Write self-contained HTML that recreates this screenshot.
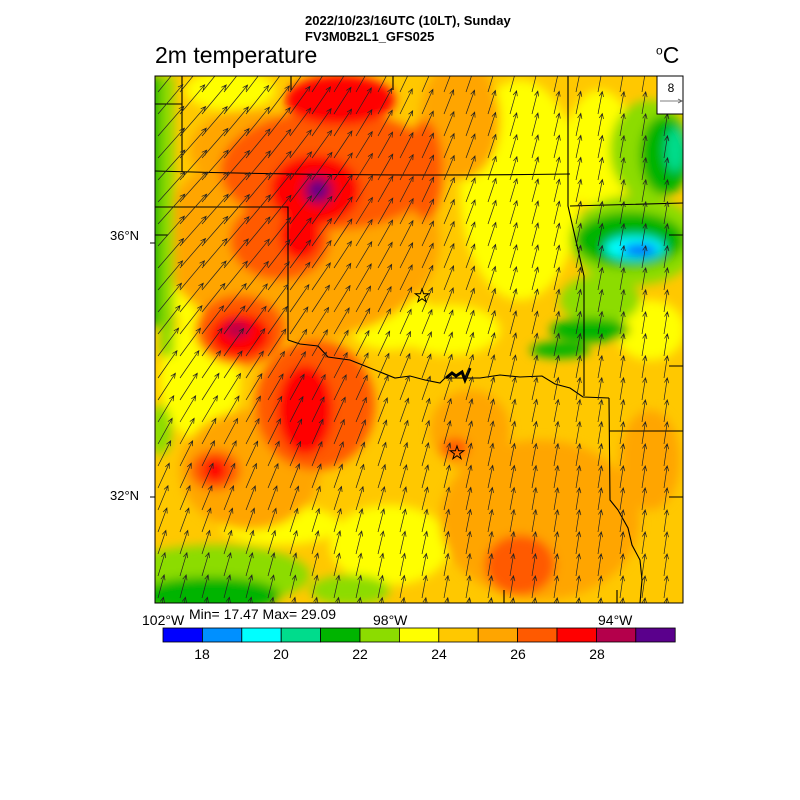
<!DOCTYPE html>
<html><head><meta charset="utf-8"><style>
body{margin:0;background:#fff;font-family:"Liberation Sans",sans-serif;}
#w{position:relative;width:800px;height:800px;overflow:hidden;}
.t{position:absolute;white-space:nowrap;color:#000;}
</style></head><body><div id="w">
<div class="t" style="left:305px;top:13px;font-size:13px;font-weight:bold;">2022/10/23/16UTC (10LT), Sunday</div>
<div class="t" style="left:305px;top:29px;font-size:13px;font-weight:bold;">FV3M0B2L1_GFS025</div>
<div class="t" style="left:155px;top:42px;font-size:23px;">2m temperature</div>
<div class="t" style="left:656px;top:42px;font-size:23px;"><sup style="font-size:12px">o</sup>C</div>
<div class="t" style="left:110px;top:228px;font-size:13px;">36°N</div>
<div class="t" style="left:110px;top:488px;font-size:13px;">32°N</div>
<div class="t" style="left:142px;top:612px;font-size:14px;">102°W</div>
<div class="t" style="left:189px;top:606px;font-size:14px;">Min= 17.47 Max= 29.09</div>
<div class="t" style="left:373px;top:612px;font-size:14px;">98°W</div>
<div class="t" style="left:598px;top:612px;font-size:14px;">94°W</div>
<svg width="800" height="800" style="position:absolute;left:0;top:0">
<defs><clipPath id="c"><rect x="155" y="76" width="528" height="527"/></clipPath>
<filter id="b" x="-50%" y="-50%" width="200%" height="200%"><feGaussianBlur stdDeviation="5"/></filter></defs>
<g clip-path="url(#c)">
<rect x="155" y="76" width="528" height="527" fill="#ffc800"/>
<g filter="url(#b)">
<!-- yellow regions -->
<ellipse cx="520" cy="190" rx="60" ry="110" fill="#ffff00"/>
<ellipse cx="600" cy="150" rx="35" ry="60" fill="#ffff00"/>
<ellipse cx="390" cy="320" rx="45" ry="30" fill="#ffff00"/>
<ellipse cx="450" cy="330" rx="50" ry="25" fill="#ffff00"/>
<ellipse cx="200" cy="380" rx="40" ry="60" fill="#ffff00"/>
<ellipse cx="195" cy="260" rx="25" ry="80" fill="#ffff00"/>
<ellipse cx="230" cy="90" rx="45" ry="20" fill="#ffff00"/>
<ellipse cx="390" cy="545" rx="60" ry="40" fill="#ffff00"/>
<ellipse cx="280" cy="525" rx="60" ry="20" fill="#ffff00"/>
<ellipse cx="650" cy="330" rx="35" ry="30" fill="#ffff00"/>
<!-- orange regions -->
<ellipse cx="540" cy="520" rx="100" ry="80" fill="#ffa500"/>
<ellipse cx="650" cy="460" rx="30" ry="50" fill="#ffa500"/>
<ellipse cx="470" cy="430" rx="40" ry="40" fill="#ffa500"/>
<ellipse cx="460" cy="120" rx="40" ry="60" fill="#ffa500"/>
<ellipse cx="250" cy="470" rx="70" ry="60" fill="#ffa500"/>
<ellipse cx="300" cy="240" rx="140" ry="100" fill="#ffa500"/>
<ellipse cx="250" cy="150" rx="60" ry="40" fill="#ffa500"/>
<!-- orange-red -->
<ellipse cx="330" cy="170" rx="110" ry="60" fill="#ff5a00"/>
<ellipse cx="280" cy="240" rx="50" ry="40" fill="#ff5a00"/>
<ellipse cx="240" cy="330" rx="45" ry="35" fill="#ff5a00"/>
<ellipse cx="315" cy="405" rx="60" ry="65" fill="#ff5a00"/>
<ellipse cx="425" cy="170" rx="18" ry="50" fill="#ff5a00"/>
<ellipse cx="520" cy="565" rx="35" ry="30" fill="#ff5a00"/>
<ellipse cx="455" cy="448" rx="14" ry="10" fill="#ff5a00"/>
<ellipse cx="215" cy="470" rx="25" ry="20" fill="#ff5a00"/>
<!-- red -->
<ellipse cx="340" cy="100" rx="55" ry="25" fill="#ff0000"/>
<ellipse cx="315" cy="190" rx="45" ry="35" fill="#ff0000"/>
<ellipse cx="300" cy="235" rx="20" ry="25" fill="#ff0000"/>
<ellipse cx="240" cy="335" rx="30" ry="22" fill="#ff0000"/>
<ellipse cx="305" cy="410" rx="28" ry="45" fill="#ff0000"/>
<ellipse cx="215" cy="470" rx="12" ry="12" fill="#ff0000"/>
<ellipse cx="318" cy="190" rx="16" ry="16" fill="#b4004b"/>
<ellipse cx="318" cy="190" rx="9" ry="9" fill="#5a008c"/>
<ellipse cx="237" cy="330" rx="12" ry="8" fill="#b4004b"/>
<!-- greens left -->
<rect x="140" y="76" width="22" height="250" fill="#00b400"/>
<rect x="160" y="76" width="14" height="280" fill="#8cdc00"/>
<ellipse cx="160" cy="430" rx="12" ry="25" fill="#8cdc00"/>
<ellipse cx="215" cy="575" rx="95" ry="30" fill="#8cdc00"/>
<ellipse cx="210" cy="595" rx="70" ry="18" fill="#00b400"/>
<ellipse cx="350" cy="590" rx="40" ry="15" fill="#8cdc00"/>
<!-- greens right -->
<ellipse cx="635" cy="240" rx="65" ry="45" fill="#8cdc00"/>
<ellipse cx="650" cy="150" rx="40" ry="50" fill="#8cdc00"/>
<ellipse cx="665" cy="155" rx="25" ry="40" fill="#00b400"/>
<ellipse cx="675" cy="150" rx="10" ry="22" fill="#00dc8c"/>
<ellipse cx="630" cy="240" rx="55" ry="28" fill="#00b400"/>
<ellipse cx="635" cy="248" rx="30" ry="12" fill="#00ffff"/>
<ellipse cx="640" cy="250" rx="18" ry="6" fill="#0050ff"/>
<ellipse cx="600" cy="300" rx="40" ry="25" fill="#8cdc00"/>
<ellipse cx="590" cy="330" rx="40" ry="12" fill="#00b400"/>
<ellipse cx="560" cy="350" rx="30" ry="8" fill="#00b400"/>
</g>
<g fill="none" stroke="#000" stroke-width="1.1">
<path d="M155 171 Q360 177 570 174"/>
<path d="M155 207 L288 207 L288 340"/>
<path d="M182 76 L182 172 M155 104 L182 104 M155 235 L168 235 M291 76 L291 90 M393 76 L393 90"/>
<path d="M288 340 L300 344 L318 346 L328 357 L350 360 L365 366 L380 372 L395 378 L410 376 L425 380 L440 383 L445 378 L480 378 L500 375 L520 377 L542 376 L555 384 L570 388 L583 397 L609 398"/>
<path d="M568 76 L568 206 L584 276 L584 396"/>
<path d="M570 206 L683 203 M669 235 L683 235 M669 366 L683 366 M669 497 L683 497"/>
<path d="M609 398 L610 500 L618 510 L628 528 L632 545 L640 560 L642 580 L640 603"/>
<path d="M609 431 L683 431 M504 590 L504 603 M617 590 L617 603"/>
</g>
<path d="M446 378 L452 373 L456 376 L462 372 L465 380 L470 368" stroke="#000" stroke-width="3" fill="none"/>
<g id="arr" stroke="#222" stroke-width="0.7" fill="none"></g>
</g>
<rect x="155" y="76" width="528" height="527" fill="none" stroke="#000"/>
<g stroke="#000"><line x1="150" y1="243" x2="155" y2="243"/><line x1="150" y1="497" x2="155" y2="497"/></g>
<polygon id="s1" fill="none" stroke="#000" stroke-width="1" points="0,-7 1.6,-2.2 6.7,-2.2 2.6,0.8 4.1,5.7 0,2.7 -4.1,5.7 -2.6,0.8 -6.7,-2.2 -1.6,-2.2" transform="translate(422,296)"/>
<polygon fill="none" stroke="#000" stroke-width="1" points="0,-7 1.6,-2.2 6.7,-2.2 2.6,0.8 4.1,5.7 0,2.7 -4.1,5.7 -2.6,0.8 -6.7,-2.2 -1.6,-2.2" transform="translate(457,453)"/>
<g><rect x="657" y="76" width="26" height="38" fill="#fff" stroke="#000"/>
<text x="671" y="92" font-size="12" text-anchor="middle" font-family="Liberation Sans">8</text>
<line x1="660" y1="101" x2="682" y2="101" stroke="#555" stroke-width="0.8"/>
<path d="M678 99 L682 101 L678 103" stroke="#555" stroke-width="0.8" fill="none"/></g>
<g id="cb" stroke="#000"></g>
<g font-size="14" text-anchor="middle" font-family="Liberation Sans">
<text x="202" y="659">18</text><text x="281" y="659">20</text><text x="360" y="659">22</text><text x="439" y="659">24</text><text x="518" y="659">26</text><text x="597" y="659">28</text></g>
</svg>
</div>
<script>
var ns="http://www.w3.org/2000/svg";
var cols=["#0000ff","#0090ff","#00ffff","#00dc8c","#00b400","#8cdc00","#ffff00","#ffc800","#ffa500","#ff5a00","#ff0000","#b4004b","#5a008c"];
var cb=document.getElementById("cb");
for(var i=0;i<13;i++){var r=document.createElementNS(ns,"rect");r.setAttribute("x",163+i*39.4);r.setAttribute("y",628);r.setAttribute("width",39.4);r.setAttribute("height",14);r.setAttribute("fill",cols[i]);r.setAttribute("stroke-width","0.8");cb.appendChild(r);}
var g=document.getElementById("arr"),d="";
for(var y=92;y<625;y+=22){for(var x=158;x<690;x+=22){
var w=Math.exp(-((x-160)*(x-160)/(260*260)+(y-200)*(y-200)/(280*280)));
var dx=3+24*w, dy=-(22+8*w);
var ex=x+dx,ey=y+dy,L=Math.sqrt(dx*dx+dy*dy),ux=dx/L,uy=dy/L;
var h=5,s=2.2;
var bx=ex-ux*h,by=ey-uy*h;
d+="M"+x.toFixed(1)+" "+y.toFixed(1)+"L"+ex.toFixed(1)+" "+ey.toFixed(1)+
"M"+(bx-uy*s).toFixed(1)+" "+(by+ux*s).toFixed(1)+"L"+ex.toFixed(1)+" "+ey.toFixed(1)+"L"+(bx+uy*s).toFixed(1)+" "+(by-ux*s).toFixed(1);}}
var p=document.createElementNS(ns,"path");p.setAttribute("d",d);g.appendChild(p);
</script>
</body></html>
